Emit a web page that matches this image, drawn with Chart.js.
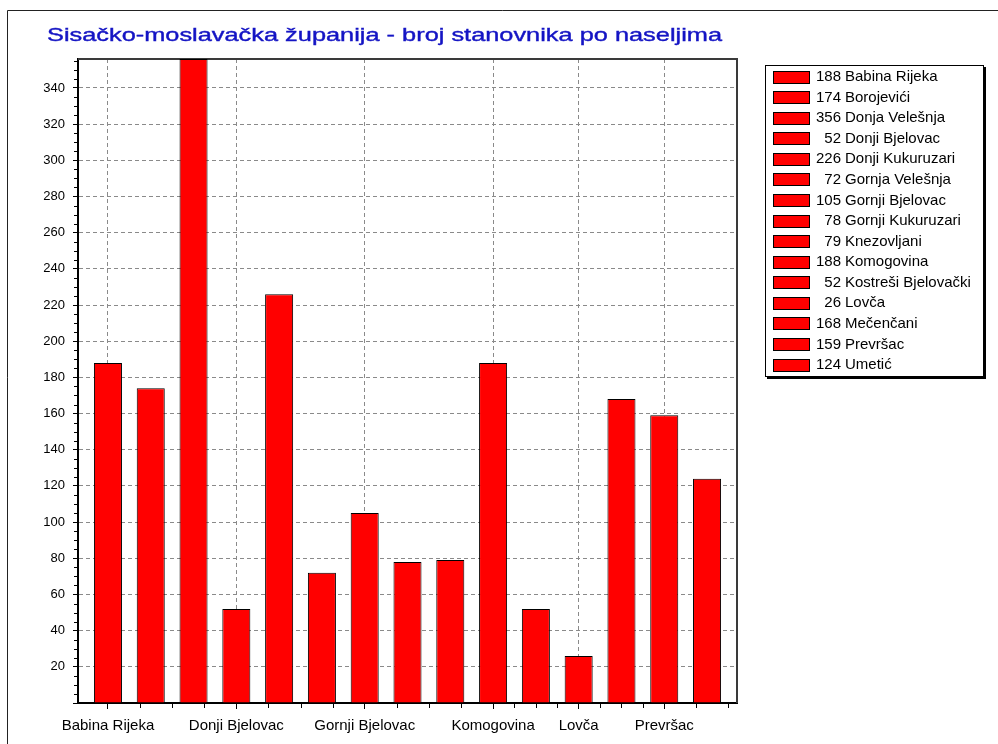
<!DOCTYPE html>
<html>
<head>
<meta charset="utf-8">
<title>Sisačko-moslavačka županija - broj stanovnika po naseljima</title>
<script src="https://cdn.jsdelivr.net/npm/chart.js@4.4.0/dist/chart.umd.min.js"></script>
<style>
    html, body { margin: 0; padding: 0; background: #fff; }
    #chart { display: block; }
</style>
</head>
<body>
<canvas id="chart" width="998" height="744"></canvas>
<script>
const chartTitle = 'Sisačko-moslavačka županija - broj stanovnika po naseljima';
const settlements = ['Babina Rijeka', 'Borojevići', 'Donja Velešnja', 'Donji Bjelovac', 'Donji Kukuruzari',
    'Gornja Velešnja', 'Gornji Bjelovac', 'Gornji Kukuruzari', 'Knezovljani', 'Komogovina',
    'Kostreši Bjelovački', 'Lovča', 'Mečenčani', 'Prevršac', 'Umetić'];
const population = [188, 174, 356, 52, 226, 72, 105, 78, 79, 188, 52, 26, 168, 159, 124];
// only some settlements get a label on the x axis
const labelledIdx = [0, 3, 6, 9, 11, 13];
const yMax = 356;
const yStep = 20;

const fontFamily = '"Liberation Sans", Arial, sans-serif';
Chart.defaults.font.family = fontFamily;

// white page with the thin frame round it
const pageFrame = {
    id: 'pageFrame',
    beforeDraw(chart) {
        const ctx = chart.ctx;
        ctx.save();
        ctx.fillStyle = '#fff';
        ctx.fillRect(0, 0, chart.width, chart.height);
        ctx.strokeStyle = '#222';
        ctx.lineWidth = 1;
        ctx.beginPath();
        ctx.moveTo(7.5, chart.height);
        ctx.lineTo(7.5, 10.5);
        ctx.lineTo(chart.width, 10.5);
        ctx.stroke();
        ctx.restore();
    }
};

// top and right edge of the plot
const plotFrame = {
    id: 'plotFrame',
    beforeDatasetsDraw(chart) {
        const { ctx, chartArea: a } = chart;
        ctx.save();
        ctx.strokeStyle = '#3a3a3a';
        ctx.lineWidth = 2;
        ctx.beginPath();
        ctx.moveTo(a.left, a.top);
        ctx.lineTo(a.right, a.top);
        ctx.lineTo(a.right, a.bottom);
        ctx.stroke();
        ctx.restore();
    }
};

const minorTicks = {
    id: 'minorTicks',
    afterDraw(chart) {
        const { ctx, chartArea: a } = chart;
        const x = chart.scales.x;
        const y = chart.scales.y;
        ctx.save();
        ctx.strokeStyle = '#000';
        ctx.lineWidth = 1;
        ctx.beginPath();
        for (let v = 5; v < yMax; v += 5) {
            if (v % yStep === 0) continue;
            const py = Math.round(y.getPixelForValue(v)) + 0.5;
            ctx.moveTo(a.left - 4, py);
            ctx.lineTo(a.left, py);
        }
        const xs = [];
        for (let k = 0; k < labelledIdx.length - 1; k++) {
            const s = labelledIdx[k], e = labelledIdx[k + 1];
            for (let j = 1; j < 4; j++) xs.push(s + (e - s) * j / 4);
        }
        for (let v = labelledIdx[labelledIdx.length - 1] + 0.75; v < x.max; v += 0.75) xs.push(v);
        xs.forEach(v => {
            const px = Math.round(x.getPixelForValue(v)) + 0.5;
            ctx.moveTo(px, a.bottom);
            ctx.lineTo(px, a.bottom + 5);
        });
        ctx.stroke();
        ctx.restore();
    }
};

const stretchedTitle = {
    id: 'stretchedTitle',
    afterDraw(chart) {
        const ctx = chart.ctx;
        ctx.save();
        ctx.font = '19px ' + fontFamily;
        ctx.fillStyle = '#1414c4';
        ctx.strokeStyle = '#1414c4';
        ctx.lineWidth = 0.4;
        ctx.textBaseline = 'alphabetic';
        const w = ctx.measureText(chartTitle).width;
        ctx.translate(47, 41);
        ctx.scale(675 / w, 1);
        ctx.fillText(chartTitle, 0, 0);
        ctx.strokeText(chartTitle, 0, 0);
        ctx.restore();
    }
};

const valueLegend = {
    id: 'valueLegend',
    afterDraw(chart) {
        const ctx = chart.ctx;
        const box = { x: 765, y: 65, w: 219, h: 312 };
        const rowH = (box.h - 24) / (settlements.length - 1);
        ctx.save();
        ctx.fillStyle = '#000';
        ctx.fillRect(box.x + 2, box.y + 2, box.w, box.h);
        ctx.fillStyle = '#fff';
        ctx.fillRect(box.x, box.y, box.w, box.h);
        ctx.strokeStyle = '#000';
        ctx.lineWidth = 1;
        ctx.strokeRect(box.x + 0.5, box.y + 0.5, box.w - 1, box.h - 1);
        ctx.font = '15px ' + fontFamily;
        ctx.textBaseline = 'middle';
        settlements.forEach((name, i) => {
            const cy = box.y + 12 + i * rowH;
            ctx.fillStyle = '#ff0000';
            ctx.fillRect(773, Math.round(cy - 6.5), 37, 13);
            ctx.strokeRect(773.5, Math.round(cy - 6.5) + 0.5, 36, 12);
            ctx.fillStyle = '#000';
            ctx.textAlign = 'right';
            ctx.fillText(String(population[i]), 841, cy);
            ctx.textAlign = 'left';
            ctx.fillText(name, 845, cy);
        });
        ctx.restore();
    }
};

new Chart(document.getElementById('chart'), {
    type: 'bar',
    data: {
        datasets: [{
            data: population.map((v, i) => ({ x: i, y: v })),
            backgroundColor: '#ff0000',
            borderColor: '#000',
            borderWidth: 1,
            barPercentage: 0.655,
            categoryPercentage: 1
        }]
    },
    options: {
        responsive: false,
        animation: false,
        layout: { padding: { left: 20, top: 59, right: 261, bottom: 0 } },
        plugins: {
            legend: { display: false },
            title: { display: false },
            tooltip: { enabled: false }
        },
        scales: {
            x: {
                type: 'linear',
                min: -0.7,
                max: 14.7,
                offset: false,
                afterBuildTicks: s => { s.ticks = labelledIdx.map(v => ({ value: v })); },
                afterFit: s => { s.height = 41; s.paddingLeft = 0; s.paddingRight = 0; },
                ticks: {
                    autoSkip: false,
                    maxRotation: 0,
                    color: '#000',
                    padding: 8,
                    font: { size: 15 },
                    callback: v => settlements[v]
                },
                grid: {
                    offset: false,
                    color: '#8a8a8a',
                    lineWidth: 1,
                    tickColor: '#000',
                    tickLength: 6,
                    tickWidth: 1
                },
                border: { color: '#000', width: 2, dash: [4, 3] }
            },
            y: {
                min: 0,
                max: yMax,
                afterFit: s => { s.width = 58; s.paddingTop = 0; s.paddingBottom = 0; },
                ticks: {
                    stepSize: yStep,
                    includeBounds: false,
                    color: '#000',
                    padding: 8,
                    font: { size: 13 },
                    callback: v => (v === 0 ? '' : v)
                },
                grid: {
                    color: '#8a8a8a',
                    lineWidth: 1,
                    tickColor: '#000',
                    tickLength: 5,
                    tickWidth: 1
                },
                border: { color: '#000', width: 2, dash: [4, 3] }
            }
        }
    },
    plugins: [pageFrame, plotFrame, minorTicks, stretchedTitle, valueLegend]
});
</script>
</body>
</html>
